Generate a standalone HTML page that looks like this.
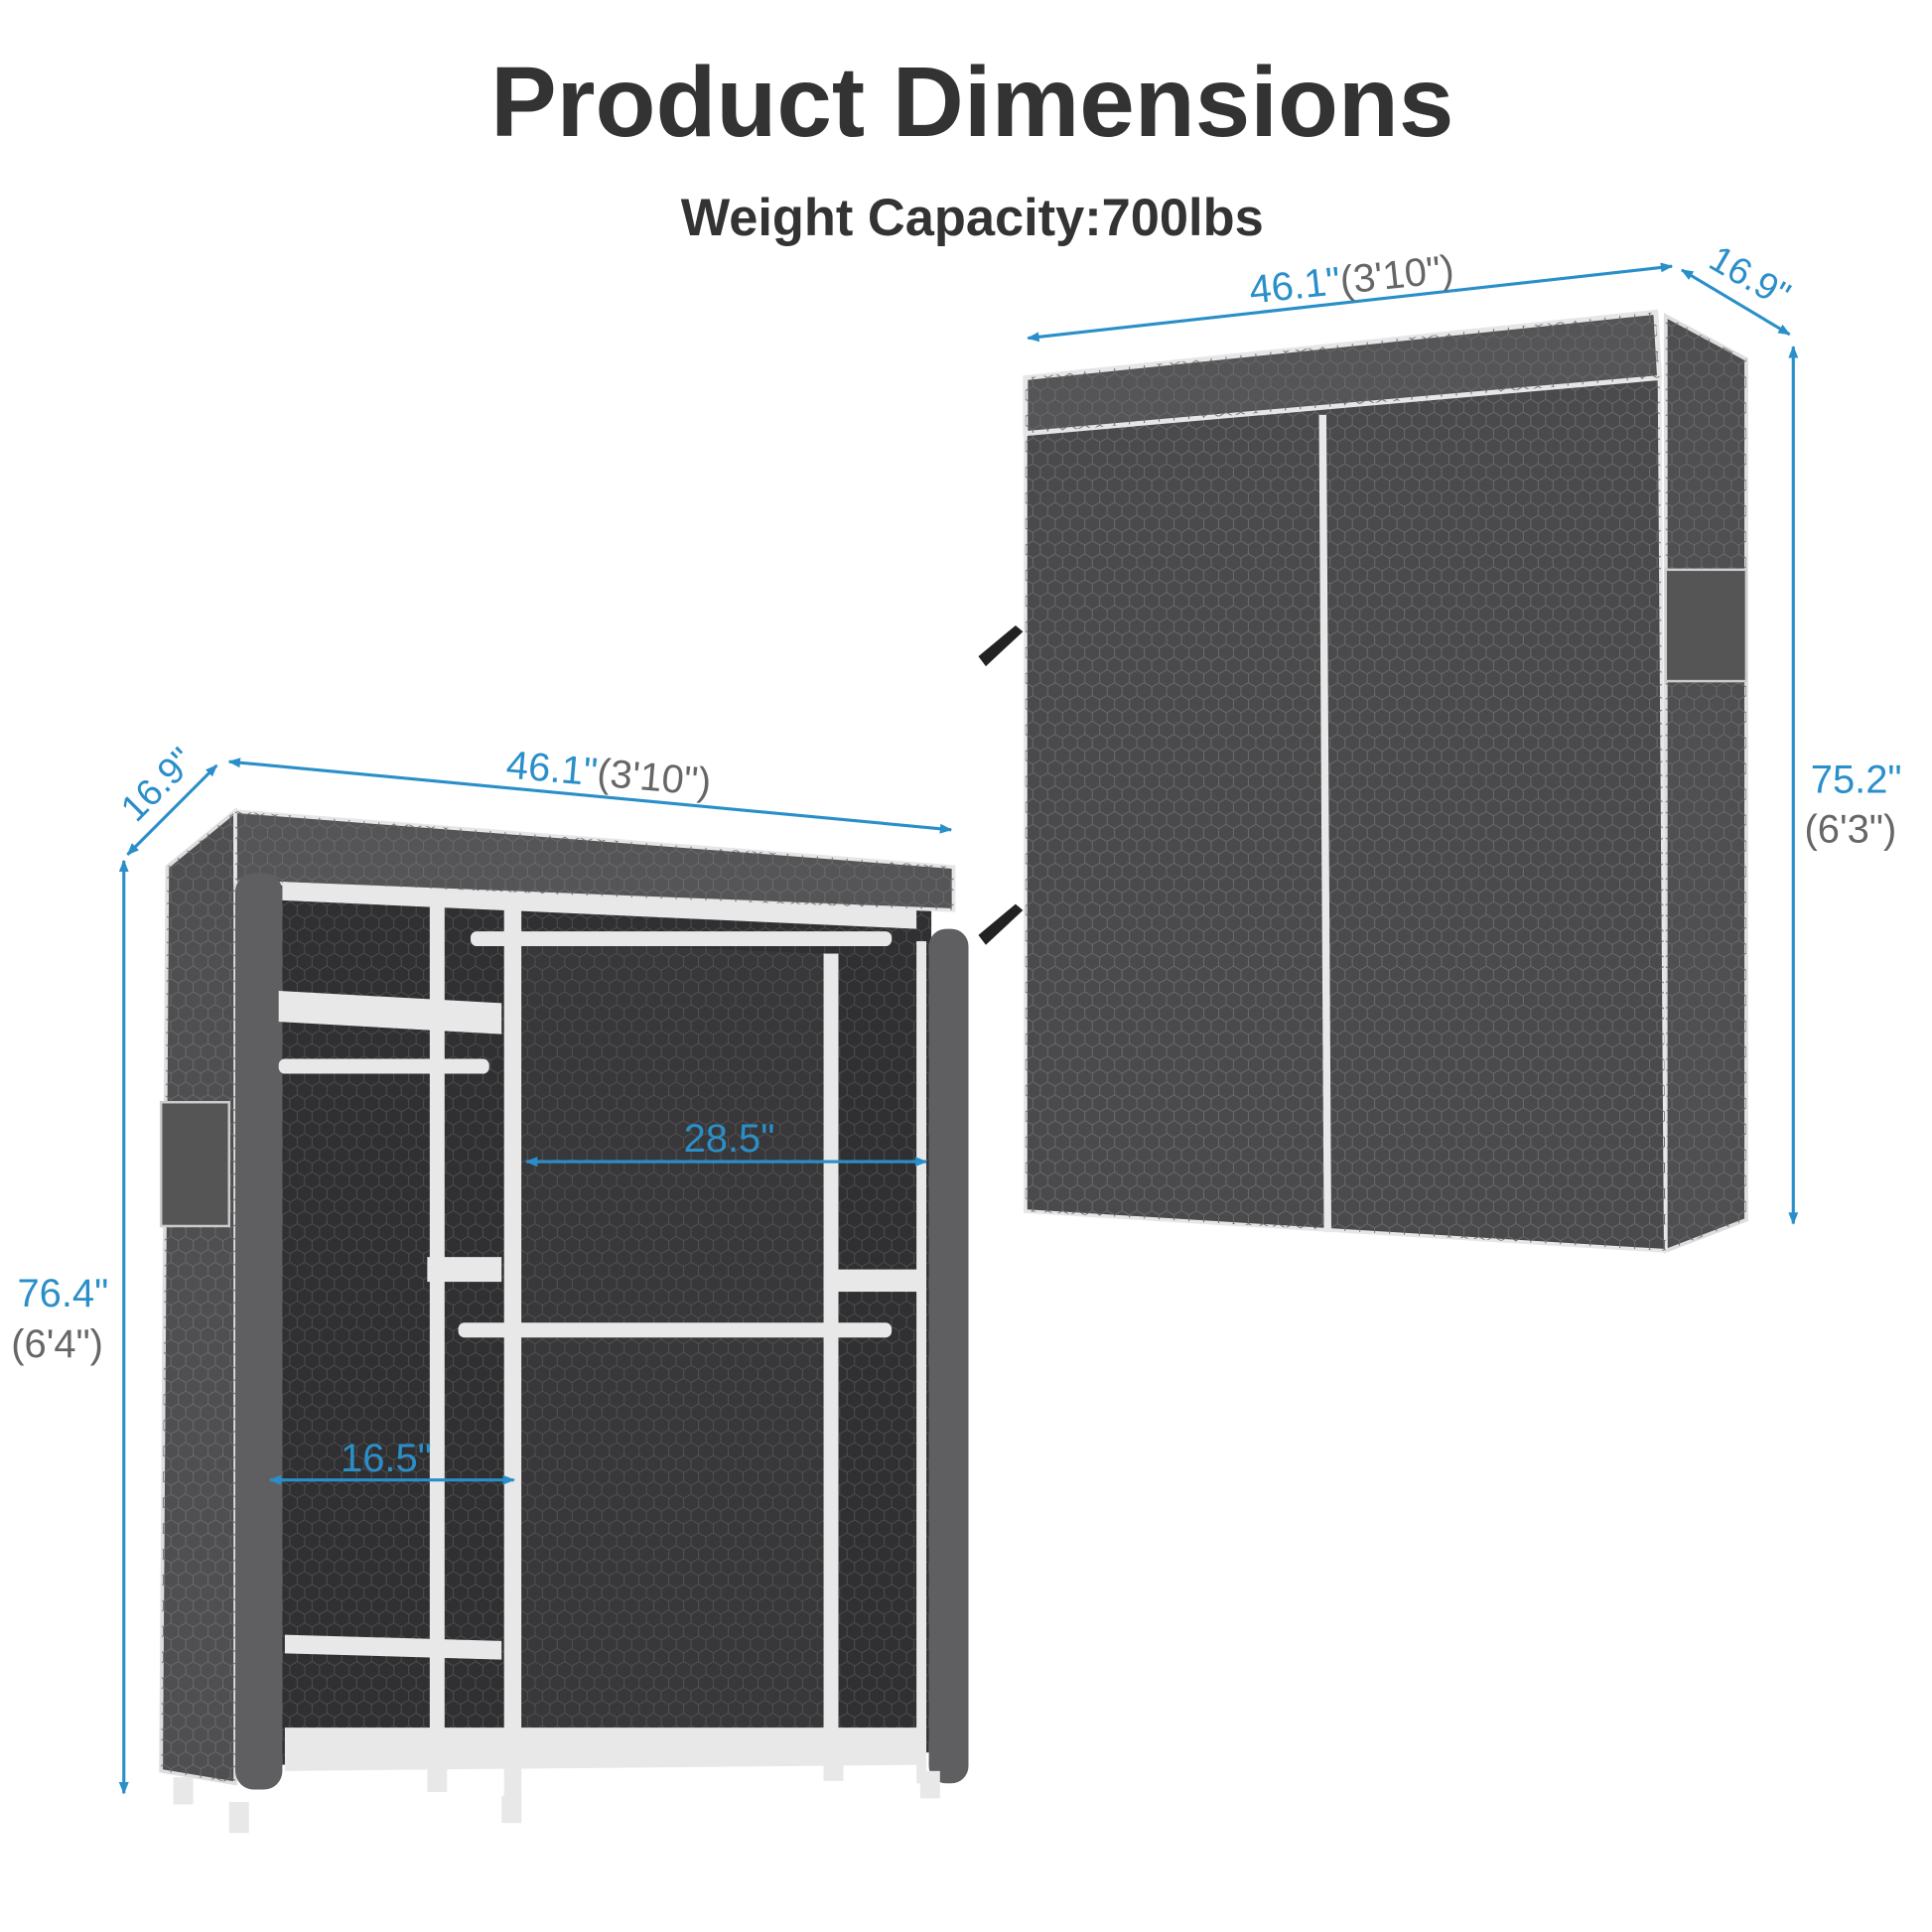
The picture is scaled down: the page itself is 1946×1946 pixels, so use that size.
<!DOCTYPE html>
<html><head><meta charset="utf-8"><style>
html,body{margin:0;padding:0;background:#fff}
svg{display:block}
text{font-family:"Liberation Sans",sans-serif}
</style></head><body>
<svg width="1946" height="1946" viewBox="0 0 1560 1560" xmlns="http://www.w3.org/2000/svg">
<defs>
<marker id="a" markerWidth="10" markerHeight="10" refX="9" refY="5" orient="auto-start-reverse" markerUnits="userSpaceOnUse"><path d="M0,1 L10,5 L0,9 z" fill="#2a8fc9"/></marker>
<pattern id="hx" width="12" height="20.8" patternUnits="userSpaceOnUse">
<path d="M0,3.5 L6,0 L12,3.5 M6,0 L6,-3 M0,3.5 L0,10.4 L6,13.9 L12,10.4 L12,3.5 M6,13.9 L6,20.8" fill="none" stroke="#6a6a6c" stroke-width="0.8"/>
</pattern>
</defs>
<rect width="1560" height="1560" fill="#fff"/>
<text x="785" y="110" font-size="80" font-weight="bold" fill="#333" text-anchor="middle">Product Dimensions</text>
<text x="785" y="190" font-size="42" fill="#333" text-anchor="middle" font-weight="bold">Weight Capacity:700lbs</text>

<!-- RIGHT WARDROBE -->
<polygon points="1345,255 1410,290 1410,985 1345,1010" fill="#4f4f51" stroke="#ddd" stroke-width="3"/>
<polygon points="1345,255 1410,290 1410,985 1345,1010" fill="url(#hx)"/>
<polygon points="828,350 1340,305 1345,1010 828,978" fill="#4a4a4c" stroke="#e6e6e6" stroke-width="3"/>
<polygon points="828,350 1340,305 1345,1010 828,978" fill="url(#hx)"/>
<polygon points="828,305 1337,252 1340,305 828,350" fill="#555557" stroke="#e6e6e6" stroke-width="4"/>
<polygon points="828,305 1337,252 1340,305 828,350" fill="url(#hx)"/>
<line x1="1068" y1="335" x2="1072" y2="995" stroke="#e8e8e8" stroke-width="6"/>
<rect x="1345" y="460" width="65" height="90" fill="#555" stroke="#ccc" stroke-width="2"/>
<polygon points="790,530 820,505 826,510 796,538" fill="#222"/>
<polygon points="790,755 820,730 826,735 796,763" fill="#222"/>
<line x1="830" y1="273" x2="1350" y2="215" stroke="#2a8fc9" stroke-width="2.5" marker-start="url(#a)" marker-end="url(#a)"/>
<line x1="1358" y1="218" x2="1445" y2="270" stroke="#2a8fc9" stroke-width="2.5" marker-start="url(#a)" marker-end="url(#a)"/>
<line x1="1448" y1="280" x2="1448" y2="988" stroke="#2a8fc9" stroke-width="2.5" marker-start="url(#a)" marker-end="url(#a)"/>
<text x="1010" y="245" font-size="32" fill="#2a8fc9" transform="rotate(-6 1010 245)">46.1"<tspan fill="#666">(3'10")</tspan></text>
<text x="1378" y="215" font-size="30" fill="#2a8fc9" transform="rotate(30 1378 215)">16.9"</text>
<text x="1462" y="640" font-size="32" fill="#2a8fc9">75.2"</text>
<text x="1457" y="680" font-size="32" fill="#666">(6'3")</text>

<!-- LEFT WARDROBE -->
<polygon points="135,700 190,655 190,1440 130,1430" fill="#4f4f51" stroke="#ddd" stroke-width="3"/>
<polygon points="135,700 190,655 190,1440 130,1430" fill="url(#hx)"/>
<polygon points="225,712 752,735 752,1415 225,1425" fill="#303032"/>
<polygon points="422,760 665,770 665,1395 422,1400" fill="#38383a"/>
<polygon points="225,712 752,735 752,1415 225,1425" fill="url(#hx)" opacity="0.5"/>
<polygon points="190,655 770,700 770,735 190,712" fill="#555557" stroke="#e6e6e6" stroke-width="3"/>
<polygon points="190,655 770,700 770,735 190,712" fill="url(#hx)"/>
<rect x="190" y="705" width="38" height="740" rx="15" fill="#5f5f61"/>
<rect x="750" y="750" width="32" height="690" rx="14" fill="#5f5f61"/>
<rect x="130" y="890" width="55" height="100" fill="#555" stroke="#ccc" stroke-width="2"/>
<g fill="#e8e8e8">
<rect x="347" y="728" width="12" height="670"/>
<rect x="407" y="735" width="14" height="735"/>
<rect x="665" y="770" width="12" height="660"/>
<rect x="740" y="760" width="8" height="680"/>
<rect x="380" y="752" width="340" height="12" rx="5"/>
<rect x="225" y="855" width="170" height="12" rx="5"/>
<rect x="370" y="1068" width="350" height="12" rx="5"/>
<polygon points="225,800 405,810 405,835 225,825"/>
<polygon points="230,1320 405,1325 405,1340 230,1335"/>
<polygon points="230,1395 745,1395 745,1425 230,1430"/>
<polygon points="228,712 740,735 740,750 228,727"/>
<rect x="345" y="1015" width="60" height="20"/>
<rect x="665" y="1025" width="80" height="18"/>
<rect x="140" y="1435" width="16" height="22"/>
<rect x="185" y="1455" width="16" height="25"/>
<rect x="345" y="1425" width="16" height="22"/>
<rect x="405" y="1450" width="16" height="22"/>
<rect x="665" y="1420" width="16" height="18"/>
<rect x="743" y="1430" width="16" height="22"/>
</g>
<line x1="185" y1="615" x2="768" y2="670" stroke="#2a8fc9" stroke-width="2.5" marker-start="url(#a)" marker-end="url(#a)"/>
<line x1="103" y1="690" x2="175" y2="618" stroke="#2a8fc9" stroke-width="2.5" marker-start="url(#a)" marker-end="url(#a)"/>
<line x1="100" y1="695" x2="100" y2="1448" stroke="#2a8fc9" stroke-width="2.5" marker-start="url(#a)" marker-end="url(#a)"/>
<line x1="425" y1="938" x2="748" y2="938" stroke="#2a8fc9" stroke-width="2.5" marker-start="url(#a)" marker-end="url(#a)"/>
<line x1="218" y1="1195" x2="415" y2="1195" stroke="#2a8fc9" stroke-width="2.5" marker-start="url(#a)" marker-end="url(#a)"/>
<text x="408" y="628" font-size="32" fill="#2a8fc9" transform="rotate(5 408 628)">46.1"<tspan fill="#666">(3'10")</tspan></text>
<text x="110" y="665" font-size="30" fill="#2a8fc9" transform="rotate(-45 110 665)">16.9"</text>
<text x="552" y="930" font-size="32" fill="#2a8fc9">28.5"</text>
<text x="275" y="1188" font-size="32" fill="#2a8fc9">16.5"</text>
<text x="14" y="1055" font-size="32" fill="#2a8fc9">76.4"</text>
<text x="9" y="1096" font-size="32" fill="#666">(6'4")</text>
</svg>
</body></html>
